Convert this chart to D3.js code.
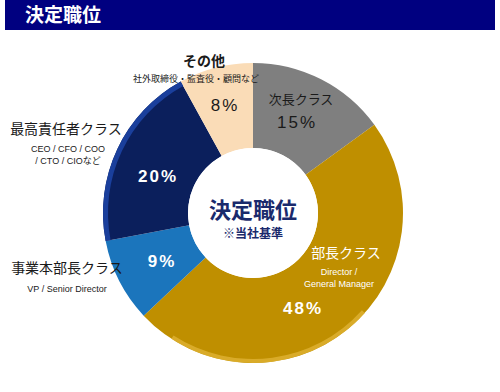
<!DOCTYPE html>
<html>
<head>
<meta charset="utf-8">
<script src="https://cdn.jsdelivr.net/npm/d3@7"></script>
<style>
  body { margin: 0; background: #fff; }
  svg { display: block; font-family: "Noto Sans CJK JP", "Noto Sans", sans-serif; }
</style>
</head>
<body>
<script>
// data (clockwise from 12 o'clock)
const categories = ['次長クラス', '部長クラス', '事業本部長クラス', '最高責任者クラス', 'その他'];
const values = [15, 48, 9, 20, 8];
const subLabels = [[], ['Director /', 'General Manager'], ['VP / Senior Director'], ['CEO / CFO / COO', '/ CTO / CIOなど'], ['社外取締役・監査役・顧問など']];
const colors = ['#7f7f7f', '#bf8f00', '#1b75bc', '#0b1f5c', '#fadcb7'];

const W = 500, H = 392;
const cx = 253, cy = 213, R = 150, r0 = 65;

const svg = d3.select('body').append('svg')
  .attr('width', W).attr('height', H);

// header
svg.append('rect').attr('x', 5).attr('y', 0).attr('width', 490).attr('height', 30).attr('fill', '#000080');
svg.append('text').attr('x', 25).attr('y', 22).attr('fill', '#fff')
  .attr('font-size', 19).attr('font-weight', 'bold').text('決定職位');

const pie = d3.pie().sort(null).value(d => d);
const arcs = pie(values);
const arc = d3.arc().innerRadius(r0).outerRadius(R);

const g = svg.append('g').attr('transform', `translate(${cx},${cy})`);

g.selectAll('path.slice').data(arcs).enter().append('path')
  .attr('class', 'slice')
  .attr('d', arc)
  .attr('fill', (d, i) => colors[i]);

// bevel on the navy slice (outer rim)
const navy = arcs[3];
g.append('path')
  .attr('d', d3.arc().innerRadius(R - 5).outerRadius(R)(navy))
  .attr('fill', '#1a3f9c');

// soft highlight along the bottom of the gold slice
const gold = arcs[1];
const goldSpan = gold.endAngle - gold.startAngle;
g.append('path')
  .attr('d', d3.arc().innerRadius(R - 4).outerRadius(R)
    .startAngle(gold.startAngle + goldSpan * 0.45)
    .endAngle(gold.endAngle - goldSpan * 0.08)())
  .attr('fill', '#ddb030').attr('opacity', 0.85);

// centre
g.append('circle').attr('r', r0).attr('fill', '#fff');
g.append('text').attr('y', 5).attr('text-anchor', 'middle')
  .attr('font-size', 22).attr('font-weight', 'bold').attr('fill', '#1a2a6c').text('決定職位');
g.append('text').attr('y', 25).attr('text-anchor', 'middle')
  .attr('font-size', 12).attr('font-weight', 'bold').attr('fill', '#1a2a6c').text('※当社基準');

// percentage labels inside the ring
const pctPos = [[297, 128], [303, 314], [162, 267], [158, 182], [225, 111]];
const pctFill = ['#1a1a1a', '#fff', '#fff', '#fff', '#1a1a1a'];
svg.selectAll('text.pct').data(values).enter().append('text')
  .attr('class', 'pct')
  .attr('x', (d, i) => pctPos[i][0]).attr('y', (d, i) => pctPos[i][1])
  .attr('text-anchor', 'middle')
  .attr('font-family', '"Liberation Sans", Arial, sans-serif')
  .attr('font-size', 17)
  .attr('font-weight', (d, i) => pctFill[i] === '#fff' ? 'bold' : 'normal')
  .attr('letter-spacing', 2)
  .attr('fill', (d, i) => pctFill[i])
  .text(d => d + '%');

// category labels
const catPos = [[301, 104, 13, '#1a1a1a'], [346, 258, 14, '#fff'], [67, 273, 14, '#1a1a1a'], [66, 134, 14, '#1a1a1a'], [204, 66, 14, '#1a1a1a']];
svg.selectAll('text.cat').data(categories).enter().append('text')
  .attr('class', 'cat')
  .attr('x', (d, i) => catPos[i][0]).attr('y', (d, i) => catPos[i][1])
  .attr('text-anchor', 'middle')
  .attr('font-size', (d, i) => catPos[i][2])
  .attr('font-weight', (d, i) => i === 4 ? 'bold' : 'normal')
  .attr('fill', (d, i) => catPos[i][3])
  .text(d => d);

// sub labels
const subPos = [null, [339, 275], [67, 292], [68, 152], [196, 82]];
subLabels.forEach((lines, i) => {
  lines.forEach((t, j) => {
    svg.append('text')
      .attr('x', subPos[i][0]).attr('y', subPos[i][1] + j * 12)
      .attr('text-anchor', 'middle')
      .attr('font-family', i === 4 ? null : '"Liberation Sans", "Noto Sans CJK JP", sans-serif')
      .attr('font-size', 9)
      .attr('fill', i === 1 ? '#fff' : '#1a1a1a')
      .text(t);
  });
});
</script>
</body>
</html>
